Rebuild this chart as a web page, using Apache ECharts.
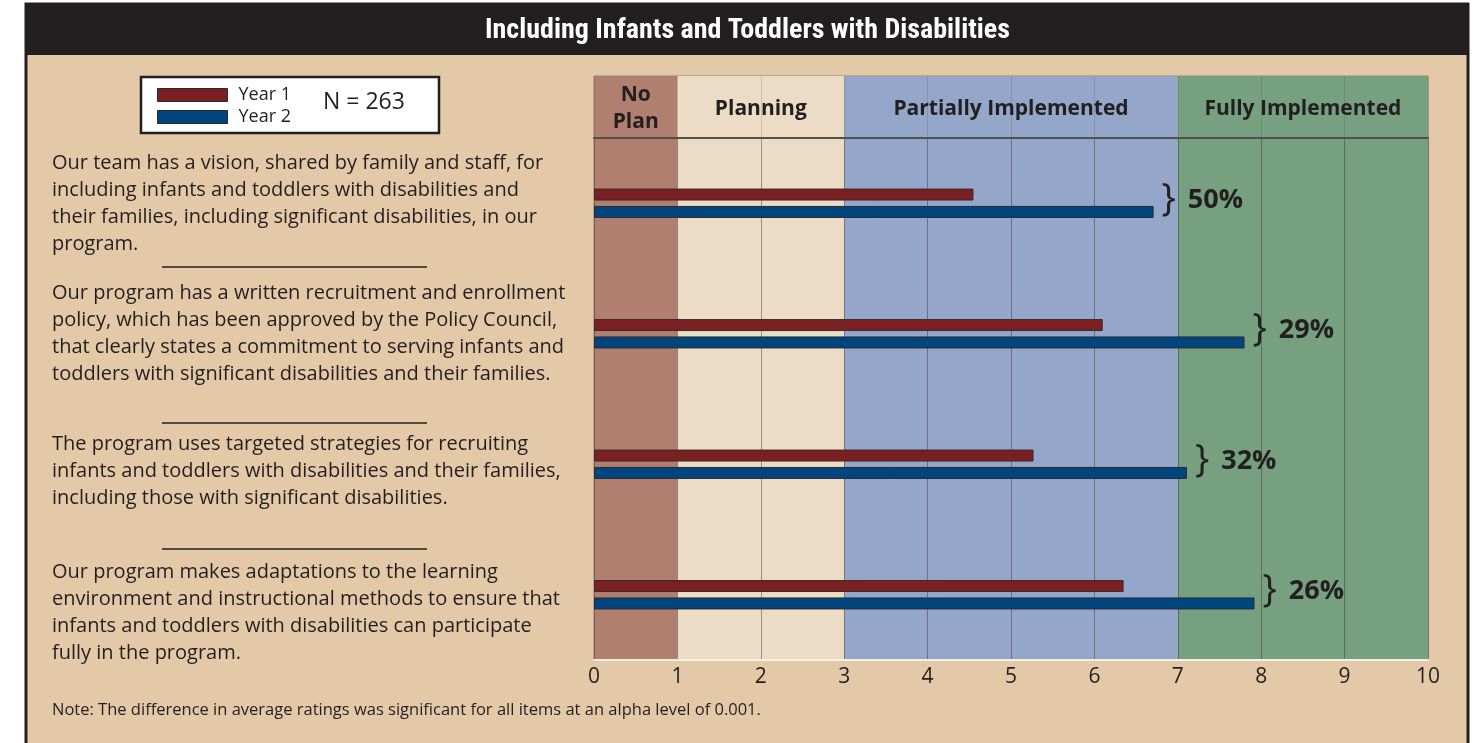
<!DOCTYPE html>
<html>
<head>
<meta charset="utf-8">
<script src="https://cdn.jsdelivr.net/npm/echarts@6/dist/echarts.min.js"></script>
<style>
  html, body { margin: 0; padding: 0; background: #fff; }
  #chart { width: 1480px; height: 743px; }
</style>
</head>
<body>
<div id="chart"></div>
<script>
// statements (categories, top to bottom)
const statements = [
  'Our team has a vision, shared by family and staff, for\nincluding infants and toddlers with disabilities and\ntheir families, including significant disabilities, in our\nprogram.',
  'Our program has a written recruitment and enrollment\npolicy, which has been approved by the Policy Council,\nthat clearly states a commitment to serving infants and\ntoddlers with significant disabilities and their families.',
  'The program uses targeted strategies for recruiting\ninfants and toddlers with disabilities and their families,\nincluding those with significant disabilities.',
  'Our program makes adaptations to the learning\nenvironment and instructional methods to ensure that\ninfants and toddlers with disabilities can participate\nfully in the program.'
];
const year1 = [4.55, 6.10, 5.27, 6.35];
const year2 = [6.71, 7.80, 7.11, 7.92];
const changePct = ['50%', '29%', '32%', '26%'];
// extra downward shift of each statement block (px)
const textShift = [1, 0, 7, 18];

// rating bands along the x axis
const bandNames = ['No\nPlan', 'Planning', 'Partially Implemented', 'Fully Implemented'];
const bandStarts = [0, 1, 3, 7];
const bandEnds = [1, 3, 7, 10];
const bandColors = ['#B07F6F', '#EDDCC5', '#94A6C9', '#76A07F'];

const textColor = '#231F20';
const font = '"Open Sans", sans-serif';

// one colour per unit interval, used by splitArea
const unitColors = [];
bandStarts.forEach((s, i) => {
  for (let k = s; k < bandEnds[i]; k++) unitColors.push(bandColors[i]);
});

const chart = echarts.init(document.getElementById('chart'));

const xBase = {
  type: 'value', min: 0, max: 10, interval: 1,
  axisTick: { show: false },
  splitArea: { show: true, areaStyle: { color: unitColors, opacity: 1 } }
};

// rich styles for statement labels; a spacer line on top pushes a block down
const labelRich = { t: { fontSize: 20, lineHeight: 27, color: textColor } };
textShift.forEach((s, i) => {
  labelRich['s' + i] = { fontSize: 2, lineHeight: s * 2, color: textColor };
});

const option = {
  backgroundColor: '#fff',
  textStyle: { fontFamily: font },
  title: {
    text: 'Including Infants and Toddlers with Disabilities',
    left: 480, top: 12,
    textStyle: { color: '#fff', fontSize: 28, fontWeight: 'bold', fontFamily: '"Liberation Sans Narrow", "Roboto Condensed", sans-serif' }
  },
  legend: {
    data: ['Year 1', 'Year 2'],
    orient: 'vertical', left: 152, top: 81,
    itemWidth: 70, itemHeight: 13, itemGap: 4,
    icon: 'rect',
    itemStyle: { borderColor: '#2a2a2a', borderWidth: 1 },
    textStyle: { fontSize: 18, color: textColor, padding: [0, 0, 0, 6] }
  },
  graphic: [
    { type: 'rect', z: -10, shape: { x: 26, y: 4, width: 1442, height: 760 }, style: { fill: '#E3C9A8', stroke: textColor, lineWidth: 3 } },
    { type: 'rect', z: -9, shape: { x: 26, y: 4, width: 1442, height: 51 }, style: { fill: textColor } },
    { type: 'rect', z: -8, shape: { x: 141, y: 77, width: 298, height: 56 }, style: { fill: '#fff', stroke: textColor, lineWidth: 2.5 } },
    { type: 'text', x: 323, y: 91, style: { text: 'N = 263', fontSize: 23, fill: textColor, fontFamily: font } },
    { type: 'line', shape: { x1: 162, y1: 267, x2: 427, y2: 267 }, style: { stroke: textColor, lineWidth: 1.5 } },
    { type: 'line', shape: { x1: 162, y1: 423, x2: 427, y2: 423 }, style: { stroke: textColor, lineWidth: 1.5 } },
    { type: 'line', shape: { x1: 162, y1: 549, x2: 427, y2: 549 }, style: { stroke: textColor, lineWidth: 1.5 } },
    { type: 'text', x: 52, y: 702, style: { text: 'Note: The difference in average ratings was significant for all items at an alpha level of 0.001.', fontSize: 16.5, fill: textColor, fontFamily: font } }
  ],
  grid: [
    { left: 594, right: 52, top: 76, height: 62, show: true, borderColor: 'rgba(60,60,60,0.5)', borderWidth: 1 },
    { left: 594, right: 52, top: 138, bottom: 83, show: true, borderColor: 'rgba(60,60,60,0.5)', borderWidth: 1 }
  ],
  xAxis: [
    Object.assign({}, xBase, {
      gridIndex: 0,
      axisLabel: { show: false },
      axisLine: { show: true, lineStyle: { color: '#55504c', width: 2 } },
      splitLine: { show: true, lineStyle: { color: 'rgba(60,60,60,0.18)' } }
    }),
    Object.assign({}, xBase, {
      gridIndex: 1,
      axisLabel: { fontSize: 21, color: textColor, margin: 7 },
      axisLine: { show: true, lineStyle: { color: '#f6efe4', width: 2 } },
      splitLine: { show: true, lineStyle: { color: 'rgba(50,50,50,0.45)' } }
    })
  ],
  yAxis: [
    { gridIndex: 0, type: 'value', show: false },
    {
      gridIndex: 1, type: 'category', inverse: true, data: statements,
      axisLine: { show: false }, axisTick: { show: false },
      axisLabel: {
        align: 'left', margin: 542, fontSize: 20, lineHeight: 27, color: textColor,
        formatter: (v, i) => (textShift[i] ? '{s' + i + '| }\n' : '') +
          v.split('\n').map(l => '{t|' + l + '}').join('\n'),
        rich: labelRich
      }
    }
  ],
  series: [
    {
      type: 'scatter', xAxisIndex: 0, yAxisIndex: 0, data: [], silent: true,
      markArea: {
        silent: true,
        itemStyle: { color: 'transparent' },
        label: { show: true, position: 'inside', fontSize: 21, fontWeight: 'bold', color: textColor, lineHeight: 27, offset: [0, 2] },
        data: bandNames.map((n, i) => [{ name: n, xAxis: bandStarts[i] }, { xAxis: bandEnds[i] }])
      }
    },
    {
      name: 'Year 1', type: 'bar', xAxisIndex: 1, yAxisIndex: 1,
      data: year1, barWidth: 12, barGap: '45%',
      itemStyle: { color: '#7A2022', borderColor: '#3a2a2a', borderWidth: 1 }
    },
    {
      name: 'Year 2', type: 'bar', xAxisIndex: 1, yAxisIndex: 1,
      data: year2, barWidth: 12,
      itemStyle: { color: '#01457F', borderColor: '#2a2a33', borderWidth: 1 },
      label: {
        show: true, position: 'right', distance: 8, offset: [0, -12],
        fontSize: 38, fontWeight: 'normal', color: textColor,
        formatter: p => '}{p|' + changePct[p.dataIndex] + '}',
        rich: {
          p: { fontSize: 27, color: textColor, fontWeight: 'bold', padding: [0, 0, 0, 12] }
        }
      }
    }
  ]
};

chart.setOption(option);
</script>
</body>
</html>
